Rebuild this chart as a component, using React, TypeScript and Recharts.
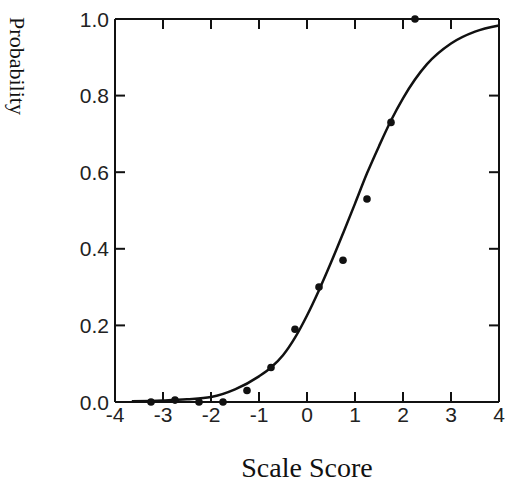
import { ComposedChart, Line, Scatter, XAxis, YAxis } from 'recharts'

// fitted curve
const curveX = [-3.65, -3, -2.5, -2, -1.5, -1, -0.75, -0.5, -0.25, 0, 0.25, 0.5, 0.75, 1, 1.25, 1.5, 1.75, 2, 2.5, 3, 3.5, 4]
const curveY = [0.002, 0.004, 0.007, 0.013, 0.033, 0.067, 0.09, 0.122, 0.168, 0.226, 0.292, 0.364, 0.44, 0.518, 0.597, 0.668, 0.735, 0.793, 0.882, 0.936, 0.967, 0.983]

// observed proportions
const pointX = [-3.25, -2.75, -2.25, -1.75, -1.25, -0.75, -0.25, 0.25, 0.75, 1.25, 1.75, 2.25]
const pointY = [0, 0.005, 0, 0, 0.03, 0.09, 0.19, 0.3, 0.37, 0.53, 0.73, 1.0]

const xTicks = [-4, -3, -2, -1, 0, 1, 2, 3, 4]
const yTicks = [0, 0.2, 0.4, 0.6, 0.8, 1.0]

const curve = curveX.map((x, i) => ({ x, y: curveY[i] }))
const points = pointX.map((x, i) => ({ x, y: pointY[i] }))

const INK = '#111'
const SANS = '"Liberation Sans", Arial, sans-serif'
const SERIF = '"Liberation Serif", "Times New Roman", serif'

// ticks point inward (negative size), labels pushed back outside with tickMargin
function BottomLabel({ x, y, payload }: any) {
  return (
    <text x={x} y={y} textAnchor="middle" fontFamily={SANS} fontSize={21} fill="#222">
      {payload.value}
    </text>
  )
}

function LeftLabel({ x, y, payload }: any) {
  return (
    <text x={x} y={y} textAnchor="end" dominantBaseline="central" fontFamily={SANS} fontSize={21} fill="#222">
      {Number(payload.value).toFixed(1)}
    </text>
  )
}

const NoLabel = () => <g />

const Dot = (p: any) => <circle cx={p.cx} cy={p.cy} r={3.8} fill={INK} />

export default function App() {
  const frame = { stroke: INK, strokeWidth: 2 }
  const tl = { stroke: INK, strokeWidth: 2 }
  return (
    <div style={{ position: 'absolute', left: 0, top: 0, width: 506, height: 482, background: '#fff' }}>
      <ComposedChart width={506} height={482} margin={{ top: 9, right: 2, bottom: 50, left: 75 }}>
        <XAxis xAxisId="b" type="number" dataKey="x" domain={[-4, 4]} ticks={xTicks} height={30} interval={0}
          tickSize={-10} tickMargin={30} tickLine={tl} axisLine={frame} tick={<BottomLabel />} />
        <XAxis xAxisId="t" orientation="top" type="number" dataKey="x" domain={[-4, 4]} ticks={[-3, -2, -1, 0, 1, 2, 3]} height={10} interval={0}
          tickSize={-10} tickMargin={0} tickLine={tl} axisLine={frame} tick={<NoLabel />} />
        <YAxis yAxisId="l" type="number" dataKey="y" domain={[0, 1]} ticks={yTicks} width={40} interval={0}
          tickSize={-10} tickMargin={16} tickLine={tl} axisLine={frame} tick={<LeftLabel />} />
        <YAxis yAxisId="r" orientation="right" type="number" dataKey="y" domain={[0, 1]} ticks={[0.2, 0.4, 0.6, 0.8]} width={5} interval={0}
          tickSize={-10} tickMargin={0} tickLine={tl} axisLine={frame} tick={<NoLabel />} />
        {/* invisible series so the top and right frame axes get drawn */}
        <Line xAxisId="t" yAxisId="r" data={curve} dataKey="y" stroke="none" dot={false} activeDot={false}
          legendType="none" isAnimationActive={false} />
        <Line xAxisId="b" yAxisId="l" data={curve} dataKey="y" type="monotone" stroke={INK} strokeWidth={2.5}
          dot={false} isAnimationActive={false} />
        <Scatter xAxisId="b" yAxisId="l" data={points} dataKey="y" shape={Dot} isAnimationActive={false} />
      </ComposedChart>
      <svg width={506} height={482} style={{ position: 'absolute', left: 0, top: 0, pointerEvents: 'none' }}>
        <text transform="translate(17,66) rotate(90)" textAnchor="middle" dominantBaseline="central"
          fontFamily={SERIF} fontSize={22} fill={INK}>Probability</text>
        <text x={307} y={477} textAnchor="middle" fontFamily={SERIF} fontSize={28} fill={INK}>Scale Score</text>
      </svg>
    </div>
  )
}
